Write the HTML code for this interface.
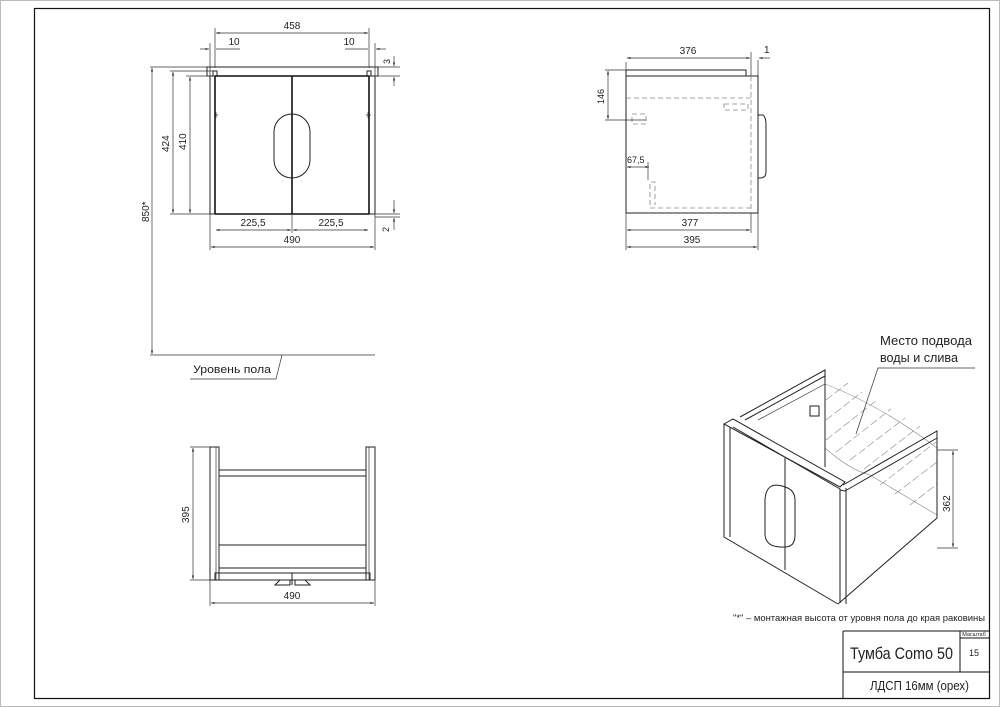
<!DOCTYPE html>
<html><head><meta charset="utf-8"><style>
html,body{margin:0;padding:0;background:#fff}
svg{display:block}
text{font-family:"Liberation Sans",sans-serif;fill:#222}
.d{stroke:#333;stroke-width:0.7;fill:none}
.t{stroke:#111;stroke-width:1.6;fill:none}
.m{stroke:#222;stroke-width:1;fill:none}
.h{stroke:#888;stroke-width:0.8;fill:none;stroke-dasharray:5,3}
</style></head><body>
<svg width="1000" height="707" viewBox="0 0 1000 707" xmlns="http://www.w3.org/2000/svg">
<defs><marker id="a" viewBox="0 0 10 10" refX="10" refY="5" markerWidth="7" markerHeight="5" orient="auto-start-reverse"><path d="M0,2 L10,5 L0,8z" fill="#222"/></marker></defs>
<rect x="0.5" y="0.5" width="999" height="706" fill="none" stroke="#bbb"/>
<rect x="34.5" y="8.5" width="955" height="690" fill="none" stroke="#111" stroke-width="1.2"/>

<!-- FRONT VIEW -->
<rect x="207" y="67" width="171" height="9" class="m"/>
<rect x="213" y="71" width="4" height="5" class="m"/>
<rect x="367" y="71" width="4" height="5" class="m"/>
<rect x="210" y="76" width="165" height="138" class="m"/>
<line x1="215" y1="76" x2="215" y2="214" class="t"/>
<line x1="369" y1="76" x2="369" y2="214" class="t"/>
<line x1="215" y1="76" x2="369" y2="76" class="t"/>
<line x1="215" y1="214" x2="369" y2="214" class="t"/>
<line x1="292" y1="76" x2="292" y2="214" class="t"/>
<rect x="274" y="114" width="36" height="64" rx="18" class="m"/>
<path d="M214 115h4M216 112v6M366 115h5M368 112v6" class="d"/>
<path d="M215 68V28M369 68V28M210 76V43M375 76V43" class="d"/>
<line x1="216" y1="33" x2="368" y2="33" class="d" marker-start="url(#a)" marker-end="url(#a)"/>
<text x="292" y="29" font-size="10" text-anchor="middle">458</text>
<line x1="200" y1="49" x2="209" y2="49" class="d" marker-end="url(#a)"/><line x1="216" y1="49" x2="240" y2="49" class="d"/>
<line x1="386" y1="49" x2="376" y2="49" class="d" marker-end="url(#a)"/><line x1="368" y1="49" x2="345" y2="49" class="d"/>
<text x="234" y="45" font-size="10" text-anchor="middle">10</text>
<text x="349" y="45" font-size="10" text-anchor="middle">10</text>
<path d="M378 67H400M378 76H400M375 214H400M375 217H400" class="d"/>
<line x1="394" y1="56" x2="394" y2="66" class="d" marker-end="url(#a)"/><line x1="394" y1="86" x2="394" y2="77" class="d" marker-end="url(#a)"/>
<text x="390" y="64" font-size="9" transform="rotate(-90 390 64)">3</text>
<line x1="394" y1="200" x2="394" y2="213" class="d" marker-end="url(#a)"/><line x1="394" y1="230" x2="394" y2="218" class="d" marker-end="url(#a)"/>
<text x="389" y="232" font-size="9" transform="rotate(-90 389 232)">2</text>
<path d="M150 67H207M170 71H213M186 76H210M170 214H210" class="d"/>
<line x1="173" y1="72" x2="173" y2="213" class="d" marker-start="url(#a)" marker-end="url(#a)"/>
<line x1="190" y1="77" x2="190" y2="213" class="d" marker-start="url(#a)" marker-end="url(#a)"/>
<text x="169" y="152" font-size="10" transform="rotate(-90 169 152)">424</text>
<text x="186" y="150" font-size="10" transform="rotate(-90 186 150)">410</text>
<line x1="152" y1="68" x2="152" y2="354" class="d" marker-start="url(#a)" marker-end="url(#a)"/>
<text x="149" y="222" font-size="10" transform="rotate(-90 149 222)">850*</text>
<line x1="150" y1="355" x2="375" y2="355" class="d"/>
<path d="M190 379H276L282 355" class="d"/>
<text x="193" y="373" font-size="11" textLength="78" lengthAdjust="spacingAndGlyphs">Уровень пола</text>
<path d="M210 214V250M375 214V250M292 214V233" class="d"/>
<line x1="216" y1="230" x2="291" y2="230" class="d" marker-start="url(#a)" marker-end="url(#a)"/>
<line x1="293" y1="230" x2="368" y2="230" class="d" marker-start="url(#a)" marker-end="url(#a)"/>
<text x="253" y="226" font-size="10" text-anchor="middle">225,5</text>
<text x="331" y="226" font-size="10" text-anchor="middle">225,5</text>
<line x1="211" y1="247" x2="374" y2="247" class="d" marker-start="url(#a)" marker-end="url(#a)"/>
<text x="292" y="243" font-size="10" text-anchor="middle">490</text>

<!-- SIDE VIEW -->
<rect x="626" y="70" width="120" height="6" class="m"/>
<rect x="626" y="76" width="132" height="137" class="m"/>
<line x1="751" y1="76" x2="751" y2="213" class="h"/>
<path d="M626 98H751M724 104H748V110H724ZM650 205V182H655V205M650 208H751" class="h"/>
<rect x="632" y="114" width="14" height="10" class="h"/>
<path d="M758 115H763Q766 117 766 125V172Q766 178 760 178H758" class="m"/>
<path d="M626 62V70M751 52V76M758 60V76" class="d"/>
<line x1="627" y1="58" x2="750" y2="58" class="d" marker-start="url(#a)" marker-end="url(#a)"/>
<text x="688" y="54" font-size="10" text-anchor="middle">376</text>
<line x1="770" y1="58" x2="759" y2="58" class="d" marker-end="url(#a)"/>
<text x="764" y="53" font-size="10">1</text>
<path d="M605 70H626M605 120H646" class="d"/>
<line x1="608" y1="71" x2="608" y2="119" class="d" marker-start="url(#a)" marker-end="url(#a)"/>
<text x="604" y="104" font-size="9" transform="rotate(-90 604 104)">146</text>
<line x1="627" y1="167" x2="649" y2="167" class="d" marker-start="url(#a)" marker-end="url(#a)"/>
<line x1="648" y1="162" x2="648" y2="180" class="d"/>
<text x="627" y="163" font-size="9">67,5</text>
<path d="M626 213V250M758 213V250M751 213V233" class="d"/>
<line x1="627" y1="230" x2="750" y2="230" class="d" marker-start="url(#a)" marker-end="url(#a)"/>
<line x1="627" y1="247" x2="757" y2="247" class="d" marker-start="url(#a)" marker-end="url(#a)"/>
<text x="690" y="226" font-size="10" text-anchor="middle">377</text>
<text x="692" y="243" font-size="10" text-anchor="middle">395</text>

<!-- TOP VIEW -->
<rect x="210" y="447" width="9" height="133" class="m"/>
<rect x="366" y="447" width="9" height="133" class="m"/>
<path d="M216 447V580M369 447V580" class="d"/>
<rect x="219" y="470" width="147" height="6" class="m"/>
<line x1="219" y1="545" x2="366" y2="545" class="m"/>
<rect x="219" y="568" width="147" height="5" class="m"/>
<rect x="215" y="573" width="155" height="7" class="m"/>
<path d="M292 573V585M275 585L280 580H290V585ZM310 585L305 580H295V585Z" class="m"/>
<path d="M190 447H210M190 580H210M210 580V606M375 580V606" class="d"/>
<line x1="193" y1="448" x2="193" y2="579" class="d" marker-start="url(#a)" marker-end="url(#a)"/>
<text x="189" y="523" font-size="10" transform="rotate(-90 189 523)">395</text>
<line x1="211" y1="603" x2="374" y2="603" class="d" marker-start="url(#a)" marker-end="url(#a)"/>
<text x="292" y="599" font-size="10" text-anchor="middle">490</text>

<!-- ISO -->
<g stroke="#888" stroke-width="0.6" stroke-dasharray="8,3">
<line x1="826" y1="400" x2="848" y2="383"/><line x1="826" y1="420" x2="862" y2="392"/><line x1="826" y1="440" x2="877" y2="400"/>
<line x1="836" y1="452" x2="891" y2="409"/><line x1="850" y1="460" x2="905" y2="418"/><line x1="864" y1="469" x2="920" y2="426"/>
<line x1="880" y1="485" x2="936" y2="442"/><line x1="895" y1="494" x2="937" y2="462"/><line x1="910" y1="505" x2="937" y2="484"/>
</g>
<path d="M825 384Q880 405 937 448M870 475Q895 490 937 515M825 448Q850 470 870 475" stroke="#888" stroke-width="0.6" fill="none"/>
<path d="M740 417L825 370V467M745 420L825 376" class="m"/>
<path d="M758 420L825 384" class="d"/>
<rect x="810" y="406" width="9" height="10" class="m"/>
<path d="M724 424L733 419L845 482L840 487ZM724 424V537L838 604M730 427V537" class="m"/>
<path d="M733 427L840 489V603M843 485L937 431V438L845 491" class="m"/>
<path d="M840 490L845 491M846 488V604M838 604L937 518V438" class="m"/>
<line x1="785" y1="458" x2="785" y2="570" class="m"/>
<path d="M785 487Q766 480 765 500V535Q766 548 785 547M785 487Q795 490 795 500V535Q795 547 785 547" class="m"/>
<path d="M937 450H958M937 548H958" class="d"/>
<line x1="953" y1="451" x2="953" y2="547" class="d" marker-start="url(#a)" marker-end="url(#a)"/>
<text x="950" y="512" font-size="10" transform="rotate(-90 950 512)">362</text>
<path d="M975 368H878L856 434" class="d"/>
<text x="880" y="345" font-size="13" textLength="92" lengthAdjust="spacingAndGlyphs">Место подвода</text>
<text x="880" y="362" font-size="13" textLength="78" lengthAdjust="spacingAndGlyphs">воды и слива</text>

<text x="733" y="621" font-size="9" textLength="252" lengthAdjust="spacingAndGlyphs">"*" – монтажная высота от уровня пола до края раковины</text>
<path d="M843 631H989M843 631V698M843 672H989M960 631V672M960 638H989" stroke="#111" stroke-width="1" fill="none"/>
<text x="850" y="659" font-size="17" textLength="103" lengthAdjust="spacingAndGlyphs">Тумба Como 50</text>
<text x="974" y="656" font-size="9" text-anchor="middle">15</text>
<text x="974" y="636" font-size="5.5" text-anchor="middle">Масштаб</text>
<text x="870" y="690" font-size="13" textLength="99" lengthAdjust="spacingAndGlyphs">ЛДСП 16мм (орех)</text>
</svg>
</body></html>
